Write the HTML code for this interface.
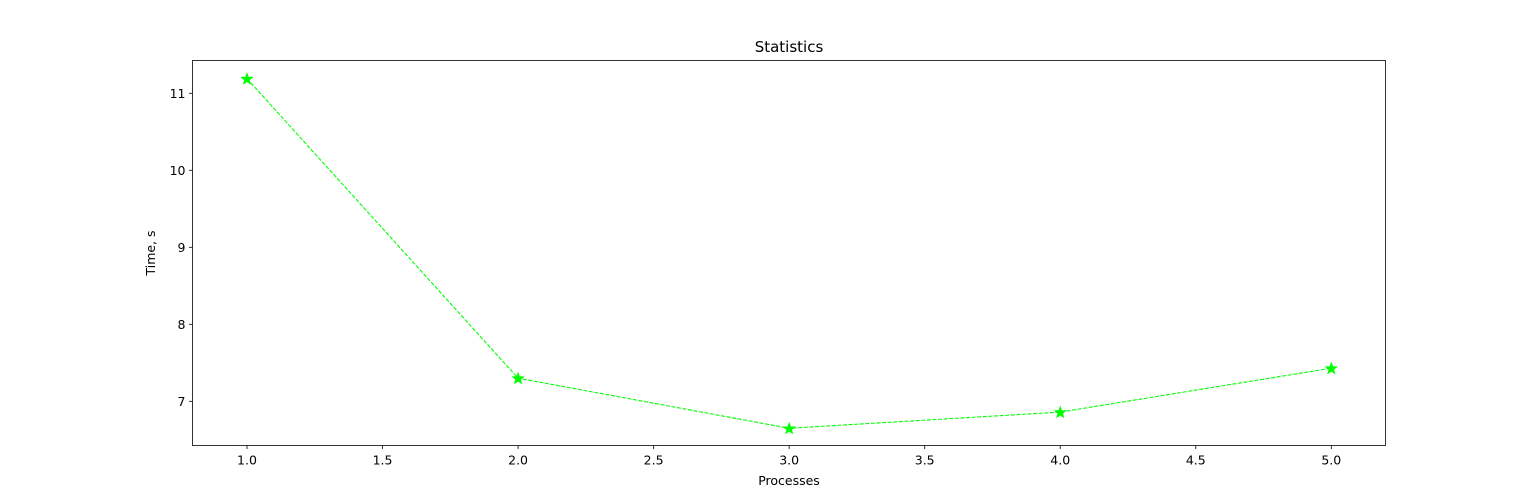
<!DOCTYPE html>
<html><head><meta charset="utf-8"><style>
body{margin:0;background:#fff;}
svg{display:block;font-family:"DejaVu Sans","Liberation Sans",sans-serif;}
</style></head><body>
<svg id="chart" width="1539" height="500">
<rect width="1539" height="500" fill="#fff"/>
</svg>
<script>
const categories = [1, 2, 3, 4, 5];
const timeValues = [11.19, 7.30, 6.65, 6.86, 7.43];
const xTicks = [1.0, 1.5, 2.0, 2.5, 3.0, 3.5, 4.0, 4.5, 5.0];
const yTicks = [7, 8, 9, 10, 11];

const NS = 'http://www.w3.org/2000/svg';
const svg = document.getElementById('chart');
const L = 192.5, R = 1385.5, T = 60.5, B = 445.5;
function xs(v){ return 247 + (v - 1) * 271.08; }
function ys(v){ return 93.3 + (11 - v) * 77.0; }
function mk(tag, attrs, parent){
  const e = document.createElementNS(NS, tag);
  for (const k in attrs) e.setAttribute(k, attrs[k]);
  (parent || svg).appendChild(e);
  return e;
}

xTicks.forEach(v => {
  const g = mk('g', {});
  
  
  mk('line', {x1: xs(v), x2: xs(v), y1: B, y2: B + 3.5, stroke: '#000', 'stroke-width': 0.8}, g);
  const t = mk('text', {x: xs(v), y: B + 19, 'font-size': 12.5, 'text-anchor': 'middle', fill: '#000'}, g);
  t.textContent = v.toFixed(1);
});
yTicks.forEach(v => {
  const g = mk('g', {});
  
  
  mk('line', {x1: L - 3.5, x2: L, y1: ys(v), y2: ys(v), stroke: '#000', 'stroke-width': 0.8}, g);
  const t = mk('text', {x: L - 7, y: ys(v) + 4.5, 'font-size': 12.5, 'text-anchor': 'end', fill: '#000'}, g);
  t.textContent = String(v);
});

const pts = categories.map((c, i) => xs(c) + ',' + ys(timeValues[i])).join(' ');
const line = mk('polyline', {points: pts, fill: 'none', stroke: '#00ff00', 'stroke-width': 1.1, 'stroke-dasharray': '4,1.6'});



function star(cx, cy, r){
  let p = [];
  for (let i = 0; i < 10; i++){
    const a = -Math.PI/2 + i * Math.PI/5;
    const rr = i % 2 ? r * 0.42 : r;
    p.push((cx + rr*Math.cos(a)).toFixed(2) + ',' + (cy + rr*Math.sin(a)).toFixed(2));
  }
  return p.join(' ');
}
categories.forEach((c, i) => {
  const s = mk('polygon', {points: star(xs(c), ys(timeValues[i]) + 0.5, 5.6), fill: '#00ff00', stroke: '#00ff00', 'stroke-width': 1});
  
  
});

const frame = mk('rect', {x: L, y: T, width: R - L, height: B - T, fill: 'none', stroke: '#000', 'stroke-width': 0.8});



const title = mk('text', {x: (L + R)/2, y: 52, 'font-size': 15, 'text-anchor': 'middle', fill: '#000'});
title.textContent = 'Statistics';



const xl = mk('text', {x: (L + R)/2, y: 485, 'font-size': 12.5, 'text-anchor': 'middle', fill: '#000'});
xl.textContent = 'Processes';



const yl = mk('text', {x: 0, y: 0, 'font-size': 12.5, 'text-anchor': 'middle', fill: '#000', transform: 'translate(155,' + ((T + B)/2) + ') rotate(-90)'});
yl.textContent = 'Time, s';


</script>
</body></html>
